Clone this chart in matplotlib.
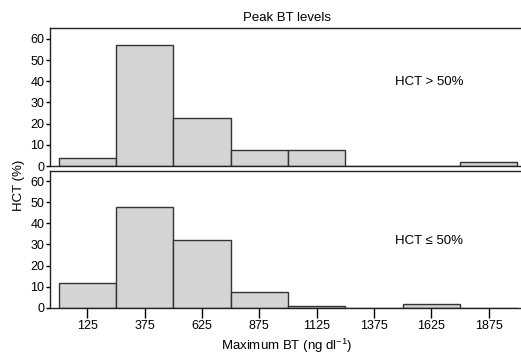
import matplotlib.pyplot as plt

plt.rcParams['font.family'] = ['Liberation Sans', 'DejaVu Sans']
plt.rcParams['mathtext.fontset'] = 'custom'
plt.rcParams['mathtext.rm'] = 'Liberation Sans'
plt.rcParams['mathtext.it'] = 'Liberation Sans'

bin_centers = [125, 375, 625, 875, 1125, 1375, 1625, 1875]
pct_high = [3.6, 57.2, 22.9, 7.4, 7.4, 0, 0, 1.7]
pct_low = [11.5, 48.0, 32.0, 7.3, 0.8, 0, 1.7, 0]
panel_labels = ["HCT > 50%", "HCT \u2264 50%"]
label_y = [0.61, 0.49]
yticks = [0, 10, 20, 30, 40, 50, 60]

fig = plt.figure(figsize=(5.21, 3.54), dpi=100)
ax_top = fig.add_axes([0.096, 0.531, 0.91, 0.389])
ax_bot = fig.add_axes([0.096, 0.1308, 0.91, 0.387])

for ax, vals, lab, ly in zip([ax_top, ax_bot], [pct_high, pct_low], panel_labels, label_y):
    ax.bar(bin_centers, vals, width=250, color='#d4d4d4', edgecolor='#333333', linewidth=1)
    ax.set_xlim(-37, 2030)
    ax.set_ylim(0, 65)
    ax.set_yticks(yticks)
    ax.spines['right'].set_visible(False)
    for s in ['left', 'top', 'bottom']:
        ax.spines[s].set_color('#222222')
        ax.spines[s].set_linewidth(1)
    ax.tick_params(axis='y', length=3, width=1, pad=1, labelsize=9)
    ax.text(0.80, ly, lab, transform=ax.transAxes, ha='center', va='center', fontsize=9.5)

ax_top.set_xticks([])
ax_bot.set_xticks(bin_centers)
ax_bot.tick_params(axis='x', length=7, width=1, pad=2, labelsize=9)
ax_bot.set_xlabel("Maximum BT (ng dl$^{\\mathregular{-1}}$)", fontsize=9.5, labelpad=3)
ax_top.set_title("Peak BT levels", fontsize=9.5, pad=5)
fig.text(0.036, 0.475, "HCT (%)", rotation=90, ha='center', va='center', fontsize=9.5)

fig.savefig("out.png", dpi=100)
